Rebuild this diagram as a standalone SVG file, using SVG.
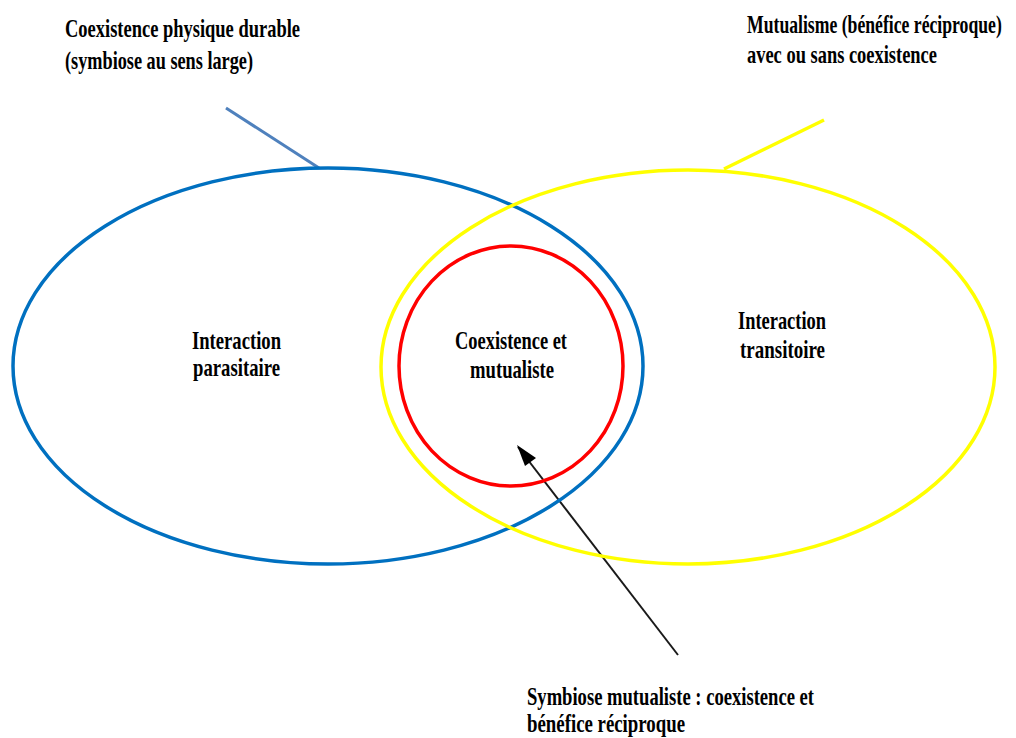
<svg xmlns="http://www.w3.org/2000/svg" width="1016" height="738" viewBox="0 0 1016 738">
<style>
text{font-family:"Liberation Serif","Times New Roman",serif;font-weight:bold;font-size:26px;fill:#000;}
.e{fill:none;stroke-width:3.5;}
</style>
<rect width="1016" height="738" fill="#fff"/>
<g id="connectors">
<line x1="226" y1="108" x2="319" y2="168" stroke="#4f81bd" stroke-width="3"/>
<line x1="824" y1="120" x2="724" y2="169" stroke="#ffff00" stroke-width="3.5"/>
<line x1="678" y1="655" x2="518" y2="447" stroke="#1a1a1a" stroke-width="2"/>
<polygon points="517,445 536,458 525,466" fill="#000"/>
</g>
<g id="blue">
<ellipse class="e" cx="328" cy="366" rx="315" ry="198" stroke="#0070c0"/>
<text x="192" y="349" textLength="89" lengthAdjust="spacingAndGlyphs">Interaction</text>
<text x="193" y="376" textLength="87" lengthAdjust="spacingAndGlyphs">parasitaire</text>
</g>
<g id="yellow">
<ellipse class="e" cx="688" cy="367" rx="307" ry="197" stroke="#ffff00"/>
<text x="738" y="329" textLength="88" lengthAdjust="spacingAndGlyphs">Interaction</text>
<text x="740" y="358" textLength="85" lengthAdjust="spacingAndGlyphs">transitoire</text>
</g>
<g id="red">
<ellipse class="e" cx="511" cy="366" rx="112" ry="120" stroke="#ff0000"/>
<text x="455" y="349" textLength="112" lengthAdjust="spacingAndGlyphs">Coexistence et</text>
<text x="470" y="378" textLength="84" lengthAdjust="spacingAndGlyphs">mutualiste</text>
</g>
<g id="label-top-left">
<text x="65" y="37" textLength="235" lengthAdjust="spacingAndGlyphs">Coexistence physique durable</text>
<text x="65" y="69" textLength="188" lengthAdjust="spacingAndGlyphs">(symbiose au sens large)</text>
</g>
<g id="label-top-right">
<text transform="translate(747,33) scale(0.68,1)" x="0" y="0">Mutualisme (bénéfice réciproque)</text>
<text x="747" y="63" textLength="190" lengthAdjust="spacingAndGlyphs">avec ou sans coexistence</text>
</g>
<g id="label-bottom">
<text x="527" y="705" textLength="287" lengthAdjust="spacingAndGlyphs">Symbiose mutualiste : coexistence et</text>
<text x="527" y="732" textLength="158" lengthAdjust="spacingAndGlyphs">bénéfice réciproque</text>
</g>
</svg>
